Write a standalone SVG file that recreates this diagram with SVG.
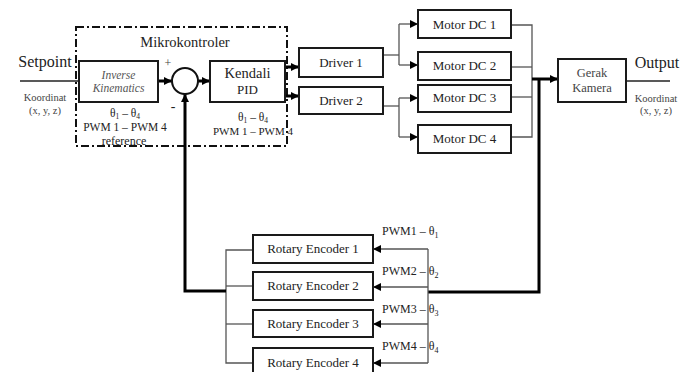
<svg xmlns="http://www.w3.org/2000/svg" width="691" height="372" viewBox="0 0 691 372">
  <style>
    .box { fill: #fff; stroke: #1a1a1a; stroke-width: 2; }
    .t { font-family: "Liberation Serif", "Times New Roman", serif; fill: #222; text-anchor: middle; }
    .ts { text-anchor: start; }
    .grey { fill: #444; }
    .light { fill: #555; font-style: italic; }
    .thin { fill: none; stroke: #555; stroke-width: 1.3; }
    .thick { fill: none; stroke: #000; stroke-width: 3; }
  </style>
  <defs>
    <marker id="ah" viewBox="0 0 10 10" refX="10" refY="5" markerWidth="9" markerHeight="8" markerUnits="userSpaceOnUse" orient="auto">
      <path d="M0,0 L10,5 L0,10 Z" fill="#000"/>
    </marker>
  </defs>
  <rect width="691" height="372" fill="#fff"/>

  <!-- microcontroller boundary -->
  <g id="mikrokontroler">
    <rect x="76" y="27" width="211" height="119" fill="none" stroke="#111" stroke-width="2" stroke-dasharray="8 3 2 3"/>
    <text class="t" x="185" y="47" font-size="14.5">Mikrokontroler</text>
  </g>

  <!-- connectors -->
  <g id="connectors">
    <!-- setpoint input and output -->
    <line class="thin" x1="20" y1="81" x2="79" y2="81" style="stroke:#222"/>
    <line class="thin" x1="626" y1="81" x2="670" y2="81" style="stroke:#222"/>
    <!-- forward path -->
    <line class="thick" x1="158" y1="81" x2="172" y2="81" marker-end="url(#ah)"/>
    <line class="thick" x1="198" y1="81" x2="210" y2="81" marker-end="url(#ah)"/>
    <line class="thick" x1="285" y1="67" x2="299" y2="67" marker-end="url(#ah)"/>
    <line class="thick" x1="285" y1="96" x2="299" y2="96" marker-end="url(#ah)"/>
    <!-- drivers to motors -->
    <polyline class="thin" points="383,55 399,55"/>
    <polyline class="thin" points="399,24 399,65"/>
    <line class="thin" x1="399" y1="24" x2="418" y2="24" marker-end="url(#ah)"/>
    <line class="thin" x1="399" y1="65" x2="418" y2="65" marker-end="url(#ah)"/>
    <polyline class="thin" points="383,106 399,106"/>
    <polyline class="thin" points="399,98 399,137"/>
    <line class="thin" x1="399" y1="98" x2="418" y2="98" marker-end="url(#ah)"/>
    <line class="thin" x1="399" y1="137" x2="418" y2="137" marker-end="url(#ah)"/>
    <!-- motors to camera -->
    <polyline class="thin" points="512,25 532,25 532,137 512,137"/>
    <line class="thin" x1="512" y1="67" x2="532" y2="67"/>
    <line class="thin" x1="512" y1="97" x2="532" y2="97"/>
    <line class="thick" x1="532" y1="79" x2="558" y2="79" marker-end="url(#ah)"/>
    <!-- feedback to encoders -->
    <polyline class="thick" points="539,79 539,292 428,292"/>
    <polyline class="thin" points="428,249 428,363"/>
    <line class="thin" x1="428" y1="249" x2="373" y2="249" marker-end="url(#ah)"/>
    <line class="thin" x1="428" y1="287" x2="373" y2="287" marker-end="url(#ah)"/>
    <line class="thin" x1="428" y1="324" x2="373" y2="324" marker-end="url(#ah)"/>
    <line class="thin" x1="428" y1="363" x2="373" y2="363" marker-end="url(#ah)"/>
    <!-- encoders back to summing junction -->
    <polyline class="thin" points="253,250 226,250 226,363 253,363"/>
    <line class="thin" x1="226" y1="286" x2="253" y2="286"/>
    <line class="thin" x1="226" y1="324" x2="253" y2="324"/>
    <polyline class="thick" points="226,291 185,291 185,94" marker-end="url(#ah)"/>
  </g>

  <!-- labels outside nodes -->
  <g id="io-labels">
    <text class="t" x="45" y="67" font-size="16">Setpoint</text>
    <text class="t grey" x="45" y="101" font-size="10.5">Koordinat</text>
    <text class="t grey" x="45" y="114" font-size="10.5">(x, y, z)</text>
    <text class="t" x="657" y="68" font-size="16">Output</text>
    <text class="t grey" x="656" y="102" font-size="10.5">Koordinat</text>
    <text class="t grey" x="656" y="114" font-size="10.5">(x, y, z)</text>
    <text class="t grey" x="168" y="67" font-size="12">+</text>
    <text class="t" x="173" y="111" font-size="14">-</text>
    <text class="t" x="125" y="117" font-size="11.5">θ<tspan font-size="7.5" dy="2">1</tspan><tspan dy="-2"> – θ</tspan><tspan font-size="7.5" dy="2">4</tspan></text>
    <text class="t" x="125" y="131" font-size="11.5">PWM 1 – PWM 4</text>
    <text class="t" x="124" y="145" font-size="12">reference</text>
    <text class="t" x="253" y="121" font-size="11.5">θ<tspan font-size="7.5" dy="2">1</tspan><tspan dy="-2"> – θ</tspan><tspan font-size="7.5" dy="2">4</tspan></text>
    <text class="t" x="253" y="135" font-size="11">PWM 1 – PWM 4</text>
    <text class="t ts" x="382" y="235" font-size="12">PWM1 – θ<tspan font-size="8" dy="3">1</tspan></text>
    <text class="t ts" x="382" y="275" font-size="12">PWM2 – θ<tspan font-size="8" dy="3">2</tspan></text>
    <text class="t ts" x="382" y="313" font-size="12">PWM3 – θ<tspan font-size="8" dy="3">3</tspan></text>
    <text class="t ts" x="382" y="350" font-size="12">PWM4 – θ<tspan font-size="8" dy="3">4</tspan></text>
  </g>

  <g id="inverse-kinematics">
    <rect class="box" x="79" y="61" width="79" height="41"/>
    <text class="t light" x="118.5" y="79" font-size="11.5">Inverse</text>
    <text class="t light" x="118.5" y="92" font-size="11.5">Kinematics</text>
  </g>

  <g id="summing-junction">
    <circle cx="185" cy="81" r="13" fill="#fff" stroke="#111" stroke-width="2"/>
  </g>

  <g id="kendali-pid">
    <rect class="box" x="210" y="61" width="75" height="41"/>
    <text class="t" x="247.5" y="78" font-size="14.5">Kendali</text>
    <text class="t" x="247.5" y="94" font-size="13">PID</text>
  </g>

  <g id="driver-1">
    <rect class="box" x="299" y="48" width="84" height="29"/>
    <text class="t" x="341" y="67" font-size="13">Driver 1</text>
  </g>
  <g id="driver-2">
    <rect class="box" x="299" y="87" width="84" height="27"/>
    <text class="t" x="341" y="105" font-size="13">Driver 2</text>
  </g>

  <g id="motor-dc-1">
    <rect class="box" x="418" y="10" width="93" height="28"/>
    <text class="t" x="464.5" y="29" font-size="13">Motor DC 1</text>
  </g>
  <g id="motor-dc-2">
    <rect class="box" x="418" y="52" width="93" height="28"/>
    <text class="t" x="464.5" y="70" font-size="13">Motor DC 2</text>
  </g>
  <g id="motor-dc-3">
    <rect class="box" x="418" y="85" width="93" height="27"/>
    <text class="t" x="464.5" y="102" font-size="13">Motor DC 3</text>
  </g>
  <g id="motor-dc-4">
    <rect class="box" x="418" y="125" width="93" height="28"/>
    <text class="t" x="464.5" y="143" font-size="13">Motor DC 4</text>
  </g>

  <g id="gerak-kamera">
    <rect class="box" x="558" y="59" width="68" height="43"/>
    <text class="t grey" x="592" y="77" font-size="12.5">Gerak</text>
    <text class="t grey" x="592" y="92" font-size="12.5">Kamera</text>
  </g>

  <g id="rotary-encoder-1">
    <rect class="box" x="253" y="235" width="120" height="28"/>
    <text class="t" x="313" y="253" font-size="13">Rotary Encoder 1</text>
  </g>
  <g id="rotary-encoder-2">
    <rect class="box" x="253" y="272" width="120" height="28"/>
    <text class="t" x="313" y="290" font-size="13">Rotary Encoder 2</text>
  </g>
  <g id="rotary-encoder-3">
    <rect class="box" x="253" y="310" width="120" height="27"/>
    <text class="t" x="313" y="328" font-size="13">Rotary Encoder 3</text>
  </g>
  <g id="rotary-encoder-4">
    <rect class="box" x="253" y="348" width="120" height="30"/>
    <text class="t" x="313" y="367" font-size="13">Rotary Encoder 4</text>
  </g>
</svg>
